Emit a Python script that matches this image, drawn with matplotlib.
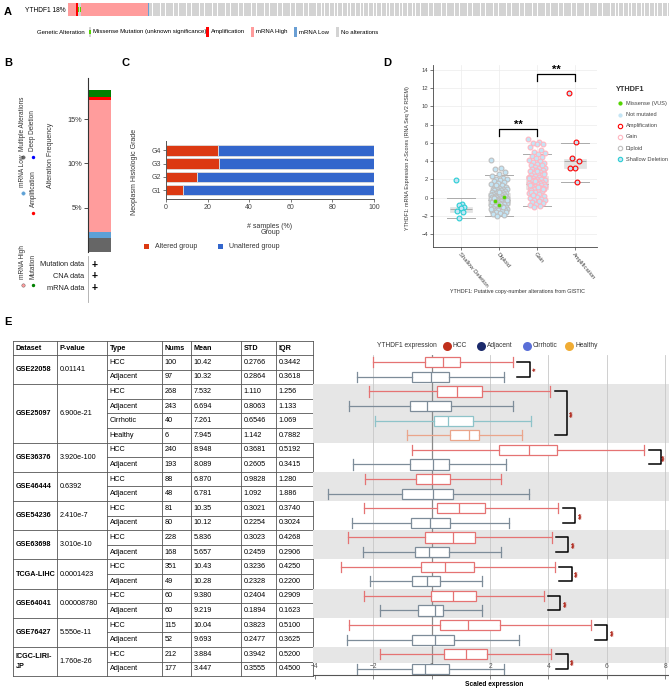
import numpy as np
import matplotlib
matplotlib.use("Agg")
import matplotlib.pyplot as plt
from matplotlib.patches import Rectangle

plt.rcParams['font.family'] = ['Liberation Sans', 'DejaVu Sans']

W, H = 669, 690

# ---------------- A: oncoprint track
a_gene_label = "YTHDF1 18%"
a_run_types = ["mRNA High", "Amplification", "Missense", "mRNA High", "mRNA Low", "No alterations"]
a_run_counts = [5, 1, 2, 41, 1, 320]
a_legend = ["Missense Mutation (unknown significance)", "Amplification", "mRNA High", "mRNA Low", "No alterations"]

# ---------------- B: alteration frequency
b_types = ["Multiple Alterations", "mRNA Low", "mRNA High", "Amplification", "Mutation"]
b_freq = [1.6, 0.7, 14.9, 0.3, 0.8]
b_ticks = [5, 10, 15]
b_legend_col1 = ["mRNA High", "mRNA Low", "Multiple Alterations"]
b_legend_col2 = ["Mutation", "Amplification", "Deep Deletion"]
b_tracks = ["Mutation data", "CNA data", "mRNA data"]

# ---------------- C: histologic grade
c_grades = ["G1", "G2", "G3", "G4"]
c_altered = [8.0, 15.0, 25.3, 25.0]

# ---------------- D: expression by copy number
d_cats = ["Shallow Deletion", "Diploid", "Gain", "Amplification"]
d_shallow = [1.9, -0.7, -0.85, -1.0, -1.1, -1.5, -1.55, -2.25]
d_diploid = [4.1, 3.3, 3.1, 2.8, 2.6, 2.4, 2.2, 2.1, 2.0, 1.9, 1.8, 1.7, 1.6, 1.5, 1.4,
             1.3, 1.2, 1.1, 1.0, 1.0, 0.9, 0.9, 0.8, 0.8, 0.7, 0.7, 0.6, 0.6, 0.5, 0.5,
             0.5, 0.4, 0.4, 0.3, 0.3, 0.3, 0.2, 0.2, 0.2, 0.1, 0.1, 0.1, 0.0, 0.0, 0.0,
             -0.1, -0.1, -0.1, -0.2, -0.2, -0.2, -0.2, -0.3, -0.3, -0.3, -0.4, -0.4, -0.4,
             -0.5, -0.5, -0.5, -0.6, -0.6, -0.6, -0.7, -0.7, -0.7, -0.8, -0.8, -0.9, -0.9,
             -1.0, -1.0, -1.1, -1.1, -1.2, -1.2, -1.3, -1.3, -1.4, -1.4, -1.5, -1.5, -1.6,
             -1.6, -1.7, -1.8, -1.9, -2.0, -1.2, -0.9, -0.3, 0.2, 0.6, -0.5, -1.0, 1.4,
             -0.2, -0.7, 0.0]
d_gain = [6.4, 6.1, 6.0, 5.9, 5.9, 5.6, 5.2, 5.0, 4.9, 4.8, 4.6, 4.5, 4.3, 4.1, 4.0,
          3.9, 3.8, 3.7, 3.6, 3.5, 3.4, 3.3, 3.2, 3.1, 3.0, 3.0, 2.9, 2.8, 2.7, 2.7,
          2.6, 2.5, 2.5, 2.4, 2.3, 2.3, 2.2, 2.1, 2.1, 2.0, 2.0, 1.9, 1.9, 1.8, 1.8,
          1.7, 1.7, 1.6, 1.6, 1.5, 1.5, 1.5, 1.4, 1.4, 1.3, 1.3, 1.2, 1.2, 1.1, 1.1,
          1.0, 1.0, 0.9, 0.9, 0.8, 0.8, 0.7, 0.6, 0.5, 0.4, 0.3, 0.2, 0.1, 0.0, -0.1,
          -0.2, -0.3, -0.4, -0.5, -0.6, -0.7, -0.8, -0.9, -1.0, 2.6, 1.2, 0.6, 3.6,
          1.8, 2.2, -0.4, 0.3, 1.0, 2.9, 1.4]
d_amp = [11.5, 6.1, 4.3, 4.0, 3.3, 3.2, 1.7]
d_missense = [-0.4, 0.1, -0.8]
d_lo = [-2.25, -2.0, -0.95, 1.7]
d_q1 = [-1.55, -0.75, 0.9, 3.3]
d_med = [-1.2, -0.2, 1.5, 4.0]
d_q3 = [-1.0, 0.5, 2.4, 4.2]
d_hi = [0.0, 2.5, 4.8, 6.0]
d_legend = ["Missense (VUS)", "Not mutated", "Amplification", "Gain", "Diploid", "Shallow Deletion"]

# ---------------- E: table + scaled expression boxes
e_headers = ["Dataset", "P-value", "Type", "Nums", "Mean", "STD", "IQR"]
e_datasets = ["GSE22058", "GSE25097", "GSE36376", "GSE46444", "GSE54236", "GSE63698",
              "TCGA-LIHC", "GSE64041", "GSE76427", "ICGC-LIRI-JP"]
e_pvalues = ["0.01141", "6.900e-21", "3.920e-100", "0.6392", "2.410e-7", "3.010e-10",
             "0.0001423", "0.00008780", "5.550e-11", "1.760e-26"]
e_types = [["HCC", "Adjacent"], ["HCC", "Adjacent", "Cirrhotic", "Healthy"]] + [["HCC", "Adjacent"]] * 8
e_nums = [[100, 97], [268, 243, 40, 6], [240, 193], [88, 48], [81, 80], [228, 168],
          [351, 49], [60, 60], [115, 52], [212, 177]]
e_means = [["10.42", "10.32"], ["7.532", "6.694", "7.261", "7.945"], ["8.948", "8.089"],
           ["6.870", "6.781"], ["10.35", "10.12"], ["5.836", "5.657"], ["10.43", "10.28"],
           ["9.380", "9.219"], ["10.04", "9.693"], ["3.884", "3.447"]]
e_stds = [["0.2766", "0.2864"], ["1.110", "0.8063", "0.6546", "1.142"], ["0.3681", "0.2605"],
          ["0.9828", "1.092"], ["0.3021", "0.2254"], ["0.3023", "0.2459"], ["0.3236", "0.2328"],
          ["0.2404", "0.1894"], ["0.3823", "0.2477"], ["0.3942", "0.3555"]]
e_iqrs = [["0.3442", "0.3618"], ["1.256", "1.133", "1.069", "0.7882"], ["0.5192", "0.3415"],
          ["1.280", "1.886"], ["0.3740", "0.3024"], ["0.4268", "0.2906"], ["0.4250", "0.2200"],
          ["0.2909", "0.1623"], ["0.5100", "0.3625"], ["0.5200", "0.4500"]]
e_lo = [[-2.02, -2.57], [-2.16, -2.84, -1.93, -0.84], [-0.68, -2.71], [-2.29, -3.55],
        [-2.31, -2.74], [-2.86, -2.35], [-3.09, -2.10], [-2.31, -1.76], [-2.82, -2.90], [-1.78, -2.57]]
e_q1 = [[-0.22, -0.66], [0.17, -0.73, 0.08, 0.64], [2.29, -0.73], [-0.54, -1.01],
        [0.17, -0.72], [-0.24, -0.58], [-0.36, -0.66], [-0.01, -0.46], [0.27, -0.68], [0.43, -0.66]]
e_med = [[0.38, -0.03], [0.86, -0.17, 0.56, 1.27], [3.34, 0.06], [0.02, 0.06],
         [0.92, -0.07], [0.72, -0.09], [0.46, -0.15], [0.73, 0.10], [1.24, 0.12], [1.16, -0.24]]
e_q3 = [[0.98, 0.60], [1.73, 0.67, 1.40, 1.61], [4.29, 0.58], [0.64, 0.74],
        [1.84, 0.62], [1.49, 0.60], [1.46, 0.30], [1.53, 0.40], [2.34, 0.77], [1.90, 0.60]]
e_hi = [[2.78, 2.49], [4.06, 2.78, 3.39, 3.08], [7.28, 2.56], [2.38, 3.32],
        [4.34, 2.65], [4.11, 2.38], [4.22, 1.71], [3.84, 1.71], [5.45, 2.98], [4.09, 2.49]]
e_sig = ["*", "**", "**", "", "**", "**", "**", "**", "**", "**"]
e_legend = ["HCC", "Adjacent", "Cirrhotic", "Healthy"]

# colours
onco_colors = {"mRNA High": "#ff9c9c", "Amplification": "#ff0000", "Missense": "#d3d3d3",
               "mRNA Low": "#6a9fd4", "No alterations": "#d3d3d3"}
b_colors = ["#666666", "#5ea1d6", "#ff9c9c", "#ff0000", "#008000"]
box_line = {"HCC": "#e57373", "Adjacent": "#7d8c99", "Cirrhotic": "#8ec3c9", "Healthy": "#eaa58b"}
leg_dot = {"HCC": "#c0301c", "Adjacent": "#1b2a6b", "Cirrhotic": "#5a6fd8", "Healthy": "#f0ac34"}

fig = plt.figure(figsize=(W / 100, H / 100), dpi=100)
fa = fig.add_axes([0, 0, 1, 1])
fa.set_xlim(0, W)
fa.set_ylim(H, 0)
fa.axis("off")


def px_axes(x0, y0, x1, y1):
    ax = fig.add_axes([x0 / W, 1 - y1 / H, (x1 - x0) / W, (y1 - y0) / H])
    ax.set_facecolor("none")
    return ax


def spread(n, width):
    return ((np.arange(n) * 0.6180339887) % 1 - 0.5) * width


for lab, x, y in [("A", 8, 12), ("B", 8, 63), ("C", 125, 63), ("D", 387, 63), ("E", 8, 322)]:
    fa.text(x, y, lab, fontsize=8, weight="bold", ha="center", va="center")

# ---------------- A
axA = px_axes(68, 3, 669, 16)
status = []
for t, c in zip(a_run_types, a_run_counts):
    status += [t] * c
n_samp = len(status)
xs = np.arange(n_samp)
widths = [0.82 if s == "No alterations" else 1.0 for s in status]
axA.bar(xs, 1, width=widths, color=[onco_colors[s] for s in status], linewidth=0)
mis = [i for i, s in enumerate(status) if s == "Missense"]
axA.bar(mis, 0.34, bottom=0.33, width=0.82, color="#53d400", linewidth=0)
axA.set_xlim(-0.5, n_samp - 0.5)
axA.set_ylim(0, 1)
axA.axis("off")
fa.text(66, 10, a_gene_label, fontsize=4.8, va="center", ha="right")

fa.text(37, 32, "Genetic Alteration", fontsize=4.3, va="center")
sw_x = [88.5, 206, 251, 294, 336]
txt_x = [93, 210.5, 256, 299, 341]
sw_col = ["#d3d3d3", "#ff0000", "#ff9c9c", "#6a9fd4", "#d3d3d3"]
for i, lab in enumerate(a_legend):
    fa.add_patch(Rectangle((sw_x[i], 27), 2.8, 10, color=sw_col[i], lw=0))
    fa.text(txt_x[i], 32, lab, fontsize=4.3, va="center")
fa.add_patch(Rectangle((sw_x[0], 30.3), 2.8, 3.3, color="#53d400", lw=0))

# ---------------- B
axB = px_axes(88, 78, 135, 252)
bottom = 0
for v, col in zip(b_freq, b_colors):
    axB.bar(12, v, bottom=bottom, width=22, color=col, linewidth=0)
    bottom += v
axB.set_xlim(0, 47)
axB.set_ylim(0, 19.66)
for s in ["top", "right", "bottom"]:
    axB.spines[s].set_visible(False)
axB.spines["left"].set_color("#333333")
axB.spines["left"].set_linewidth(0.8)
axB.set_xticks([])
axB.set_yticks(b_ticks)
axB.set_yticklabels([f"{t}%" for t in b_ticks])
axB.tick_params(axis="y", labelsize=5.3, colors="#333333", length=3, width=0.6, pad=1)

fa.text(50, 155, "Alteration Frequency", fontsize=5, rotation=90, ha="center", va="center", color="#333333")
b_col_color1 = ["#ff9c9c", "#5ea1d6", "#666666"]
b_col_color2 = ["#008000", "#ff0000", "#0000ff"]
b_dot_y1 = [285, 193, 157]
b_dot_y2 = [285, 213, 157]
for lab, y, c in zip(b_legend_col1, b_dot_y1, b_col_color1):
    fa.scatter(23, y, s=6, color=c, edgecolors="#555555" if lab == "mRNA High" else c, linewidths=0.3)
    fa.text(23, y - 6, lab, fontsize=4.7, rotation=90, ha="center", va="bottom", color="#333333")
for lab, y, c in zip(b_legend_col2, b_dot_y2, b_col_color2):
    fa.scatter(33, y, s=6, color=c, linewidths=0)
    fa.text(33, y - 6, lab, fontsize=4.7, rotation=90, ha="center", va="bottom", color="#333333")
fa.plot([87.5, 87.5], [256, 302], color="#aaaaaa", lw=0.6)
for i, lab in enumerate(b_tracks):
    y = 265 + i * 11.5
    fa.text(84, y, lab, fontsize=5.3, ha="right", va="center", color="#222222")
    fa.text(95, y, "+", fontsize=7.5, weight="bold", ha="center", va="center")

# ---------------- C
axC = px_axes(166, 141, 374, 199)
ypos = np.arange(1, len(c_grades) + 1)
unalt = [100 - a for a in c_altered]
axC.barh(ypos, c_altered, height=0.8, color="#dc3912", edgecolor="#dddddd", linewidth=0.6)
axC.barh(ypos, unalt, left=c_altered, height=0.8, color="#3366cc", edgecolor="#dddddd", linewidth=0.6)
axC.set_xlim(0, 100)
axC.set_ylim(0.32, 4.72)
axC.set_yticks(ypos)
axC.set_yticklabels(c_grades)
axC.set_xticks(range(0, 101, 20))
for s in ["top", "right"]:
    axC.spines[s].set_visible(False)
for s in ["left", "bottom"]:
    axC.spines[s].set_color("#555555")
    axC.spines[s].set_linewidth(0.7)
axC.tick_params(labelsize=5, colors="#444444", length=2, width=0.5, pad=1.5)
fa.text(270, 226, "# samples (%)", fontsize=5, ha="center", va="center", color="#333333")
fa.text(270, 232.5, "Group", fontsize=5, ha="center", va="center", color="#333333")
fa.text(134, 172, "Neoplasm Histologic Grade", fontsize=5, rotation=90, ha="center", va="center", color="#333333")
fa.add_patch(Rectangle((143.5, 243.5), 5, 5, color="#dc3912", lw=0))
fa.text(155, 246, "Altered group", fontsize=5, va="center", color="#333333")
fa.add_patch(Rectangle((217.5, 243.5), 5, 5, color="#3366cc", lw=0))
fa.text(229, 246, "Unaltered group", fontsize=5, va="center", color="#333333")

# ---------------- D
axD = px_axes(433, 65, 597, 247)
stats = [dict(whislo=a, q1=b, med=c, q3=d, whishi=e, fliers=[])
         for a, b, c, d, e in zip(d_lo, d_q1, d_med, d_q3, d_hi)]
axD.bxp(stats, positions=range(1, 5), widths=0.6, capwidths=0.72, patch_artist=True, showfliers=False,
        manage_ticks=False,
        boxprops=dict(facecolor="#e3e3e3", edgecolor="#e3e3e3", lw=0.5),
        medianprops=dict(color="#aaaaaa", lw=0.7),
        whiskerprops=dict(color="#cfcfcf", lw=0.5),
        capprops=dict(color="#aaaaaa", lw=0.7), zorder=2)
groups = [(d_shallow, "#2aced4", 0.25), (d_diploid, "#bebebe", 0.45), (d_gain, "#ffb6c1", 0.45), (d_amp, "#ff0000", 0.3)]
for i, (vals, ec, w) in enumerate(groups):
    x = 1 + i + spread(len(vals), w)
    axD.scatter(x, vals, s=12, facecolor="#c4e5f5", edgecolor=ec, linewidths=0.8, zorder=3)
axD.scatter(2 + spread(len(d_missense), 0.35) + 0.08, d_missense, s=9, facecolor="#53d400",
            edgecolor="#bebebe", linewidths=0.4, zorder=4)
d_bracket_y = [7.5, 13.5]
for (a, b), yb in zip([(2, 3), (3, 4)], d_bracket_y):
    axD.plot([a, a, b, b], [yb - 0.75, yb, yb, yb - 0.75], color="black", lw=0.9, zorder=5)
    axD.text((a + b) / 2, yb + 0.5, "**", fontsize=8, weight="bold", ha="center", va="center")
axD.set_xlim(0.26, 4.58)
axD.set_ylim(-5.4, 14.53)
axD.set_yticks(range(-4, 15, 2))
axD.set_xticks(range(1, 5))
axD.grid(color="#ececec", lw=0.5)
axD.set_axisbelow(True)
for s in ["top", "right"]:
    axD.spines[s].set_visible(False)
for s in ["left", "bottom"]:
    axD.spines[s].set_color("#444444")
    axD.spines[s].set_linewidth(0.6)
axD.set_xticklabels(d_cats, rotation=-50, ha="left", va="top", rotation_mode="anchor")
axD.tick_params(labelsize=4.2, colors="#444444", length=2, width=0.5, pad=1.5)
fa.text(407, 158, "YTHDF1: mRNA Expression z-Scores (RNA Seq V2 RSEM)", fontsize=3.9, rotation=90,
        ha="center", va="center", color="#333333")
fa.text(517, 292, "YTHDF1: Putative copy-number alterations from GISTIC", fontsize=3.9,
        ha="center", va="center", color="#333333")
fa.text(616, 89.3, "YTHDF1", fontsize=5.3, weight="bold", va="center", color="#333333")
leg_face = ["#53d400", "#c4e5f5", "white", "white", "white", "#c4e5f5"]
leg_edge = ["#53d400", "#c4e5f5", "#ff0000", "#ffb6c1", "#bebebe", "#2aced4"]
leg_size = [5, 5, 10, 10, 10, 10]
for i, lab in enumerate(d_legend):
    y = 103.3 + i * 11.2
    fa.scatter(620, y, s=leg_size[i], facecolor=leg_face[i], edgecolor=leg_edge[i], linewidths=0.8)
    fa.text(626, y, lab, fontsize=4.1, va="center", color="#444444")

# ---------------- E table
col_x = [13, 57, 107, 162, 191, 241, 276, 313]
t_top, t_head, t_row = 341, 14, 14.6
line_kw = dict(color="#555555", lw=0.6)
fs_t = 5.2
for i, h in enumerate(e_headers):
    fa.text(col_x[i] + 2.5, t_top + t_head / 2, h, fontsize=fs_t, weight="bold", va="center")
n_rows = sum(len(t) for t in e_types)
t_bot = t_top + t_head + n_rows * t_row
for x in col_x:
    fa.plot([x, x], [t_top, t_bot], **line_kw)
fa.plot([col_x[0], col_x[-1]], [t_top, t_top], **line_kw)
r = 0
for k, ds in enumerate(e_datasets):
    n = len(e_types[k])
    y0 = t_top + t_head + r * t_row
    fa.plot([col_x[0], col_x[-1]], [y0, y0], **line_kw)
    name = ds.replace("LIRI-", "LIRI-\n") if len(ds) > 10 else ds
    fa.text(col_x[0] + 2.5, y0 + n * t_row / 2, name, fontsize=fs_t, weight="bold", va="center", linespacing=1.6)
    fa.text(col_x[1] + 2.5, y0 + n * t_row / 2, e_pvalues[k], fontsize=fs_t, va="center")
    for j in range(n):
        yc = y0 + (j + 0.5) * t_row
        if j > 0:
            fa.plot([col_x[2], col_x[-1]], [y0 + j * t_row] * 2, **line_kw)
        vals = [e_types[k][j], str(e_nums[k][j]), e_means[k][j], e_stds[k][j], e_iqrs[k][j]]
        for c, v in enumerate(vals):
            fa.text(col_x[2 + c] + 2.5, yc, v, fontsize=fs_t, va="center")
    r += n
fa.plot([col_x[0], col_x[-1]], [t_bot, t_bot], **line_kw)

# ---------------- E boxes
axE = px_axes(313, 355, 669, 675)
r = 0
for k in range(len(e_datasets)):
    n = len(e_types[k])
    if k % 2 == 1:
        axE.axhspan(r - 0.5, min(r + n - 0.5, 20.6), color="#e6e6e6", lw=0, zorder=0)
    for j in range(n):
        t = e_types[k][j]
        st = [dict(whislo=e_lo[k][j], q1=e_q1[k][j], med=e_med[k][j], q3=e_q3[k][j],
                   whishi=e_hi[k][j], fliers=[])]
        c = box_line[t]
        axE.bxp(st, positions=[r + j], widths=0.7, capwidths=0.7, orientation="horizontal",
                patch_artist=True, showfliers=False, manage_ticks=False,
                boxprops=dict(facecolor="white", edgecolor=c, lw=0.9),
                medianprops=dict(color=c, lw=0.9), whiskerprops=dict(color=c, lw=0.9),
                capprops=dict(color=c, lw=0.9), zorder=2)
    if e_sig[k]:
        left = max(e_hi[k]) + 0.15
        right = left + 0.42
        ya, yb = r, r + n - 1
        axE.plot([left, right, right, left], [ya, ya, yb, yb], color="black", lw=1.1,
                 zorder=4, clip_on=False)
        axE.text(min(right + 0.22, 7.98), (ya + yb) / 2, e_sig[k], fontsize=6.5, weight="bold",
                 color="#b0281c", rotation=90, ha="center", va="center", clip_on=False)
    r += n
axE.set_xlim(-4.065, 8.127)
axE.set_ylim(21.42, -0.5)
for xv in [-2, 2, 4, 6, 8]:
    axE.axvline(xv, color="#c8c8c8", lw=0.6, zorder=0.5)
axE.axvline(0, color="#8a8a8a", lw=0.9, zorder=0.5)
for s in ["top", "right", "left"]:
    axE.spines[s].set_visible(False)
axE.spines["bottom"].set_color("#555555")
axE.spines["bottom"].set_linewidth(0.8)
axE.set_yticks([])
axE.set_xticks(range(-4, 9, 2))
axE.tick_params(axis="x", labelsize=4.8, colors="#555555", length=3, width=0.5, pad=-11.5)
fa.text(494, 685, "Scaled expression", fontsize=4.8, weight="bold", ha="center", va="center")
fa.text(376.7, 345.7, "YTHDF1 expression", fontsize=4.8, va="center", color="#333333")
leg_x = [446.7, 481, 526.7, 569.3]
for lab, x in zip(e_legend, leg_x):
    fa.scatter(x, 345.7, s=42, color=leg_dot[lab], linewidths=0)
    fa.text(x + 6, 345.7, lab, fontsize=4.8, va="center", color="#333333")

fig.savefig("out.png", dpi=100)
